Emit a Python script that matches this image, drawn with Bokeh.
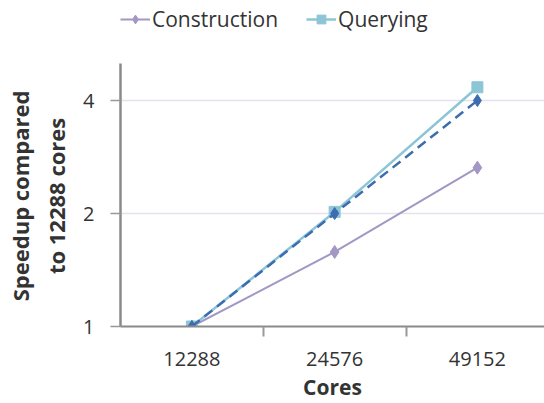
from bokeh.plotting import figure
from bokeh.models import FixedTicker, Legend, LegendItem, Range1d
from bokeh.embed import file_html
from bokeh.resources import INLINE

cores = ["12288", "24576", "49152"]
construction = [1.0, 1.58, 2.65]
querying = [1.0, 2.02, 4.34]
ideal = [1.0, 2.0, 4.0]
y_ticks = [1, 2, 4]
y_axis_top = 5.02

xs = list(range(len(cores)))
FONT = "Open Sans"
TEXT = "#333333"
PAD = "\u00a0" * 11

p = figure(frame_width=424, frame_height=324, output_backend="svg", toolbar_location=None,
           y_axis_type="log", x_range=Range1d(-0.5, 2.47), y_range=Range1d(1, 7.3),
           min_border_left=120, min_border_right=0, min_border_top=2, min_border_bottom=75)
p.outline_line_color = None
p.background_fill_color = "white"

c_con = "#a397c4"
c_q = "#8cc6d6"
c_id = "#3d6cb0"

r1 = p.line(xs, construction, line_color=c_con, line_width=2)
s1 = p.scatter(xs, construction, marker="diamond", size=13, fill_color=c_con, line_color=c_con)
r2 = p.line(xs, querying, line_color=c_q, line_width=2.5)
s2 = p.scatter(xs, querying, marker="square", size=11, fill_color=c_q, line_color=c_q)
p.line(xs, ideal, line_color=c_id, line_width=2.5, line_dash="10 6")
p.scatter(xs, ideal, marker="diamond", size=12, fill_color=c_id, line_color=c_id)

# x axis
p.xaxis.ticker = FixedTicker(ticks=xs, minor_ticks=[0.5, 1.5])
p.xaxis.major_label_overrides = {i: c for i, c in enumerate(cores)}
p.xaxis.major_tick_line_color = None
p.xaxis.major_tick_out = 0
p.xaxis.major_tick_in = 0
p.xaxis.minor_tick_line_color = "#999999"
p.xaxis.minor_tick_line_width = 2
p.xaxis.minor_tick_out = 10
p.xaxis.minor_tick_in = 0
p.xaxis.axis_line_color = "#8a8a8a"
p.xaxis.axis_line_width = 2
p.xaxis.axis_label = "Cores"
p.xaxis.major_label_standoff = 15

# y axis
p.yaxis.ticker = FixedTicker(ticks=y_ticks, minor_ticks=[])
p.yaxis.bounds = (1, y_axis_top)
p.yaxis.major_label_overrides = {t: str(t) for t in y_ticks}
p.yaxis.major_tick_line_color = "#999999"
p.yaxis.major_tick_line_width = 1.5
p.yaxis.major_tick_out = 10
p.yaxis.major_tick_in = 0
p.yaxis.minor_tick_line_color = None
p.yaxis.axis_line_color = "#8a8a8a"
p.yaxis.axis_line_width = 2.5
p.yaxis.axis_label = "Speedup compared" + PAD + "\nto 12288 cores" + PAD
p.yaxis.major_label_standoff = 16

for ax in (p.xaxis, p.yaxis):
    ax.major_label_text_font = FONT
    ax.major_label_text_font_size = "20px"
    ax.major_label_text_color = TEXT
    ax.axis_label_text_font = FONT
    ax.axis_label_text_font_style = "bold"
    ax.axis_label_text_color = TEXT
p.xaxis.axis_label_text_font_size = "21px"
p.yaxis.axis_label_text_font_size = "22px"
p.yaxis.axis_label_standoff = 9
p.xaxis.axis_label_standoff = 4

p.xgrid.grid_line_color = None
p.ygrid.ticker = FixedTicker(ticks=y_ticks[1:])
p.ygrid.grid_line_color = "#e4e2ee"
p.ygrid.grid_line_width = 1.5

legend = Legend(items=[LegendItem(label="Construction", renderers=[r1, s1]),
                       LegendItem(label="Querying", renderers=[r2, s2])],
                orientation="horizontal", location=(0, 293),
                label_text_font=FONT, label_text_font_size="21px", label_text_color=TEXT,
                glyph_width=30, glyph_height=22, label_height=22, label_standoff=2,
                spacing=28, padding=0, margin=0,
                border_line_color=None, background_fill_alpha=0)
p.add_layout(legend, "center")

open("out.html", "w").write(file_html(p, INLINE))
